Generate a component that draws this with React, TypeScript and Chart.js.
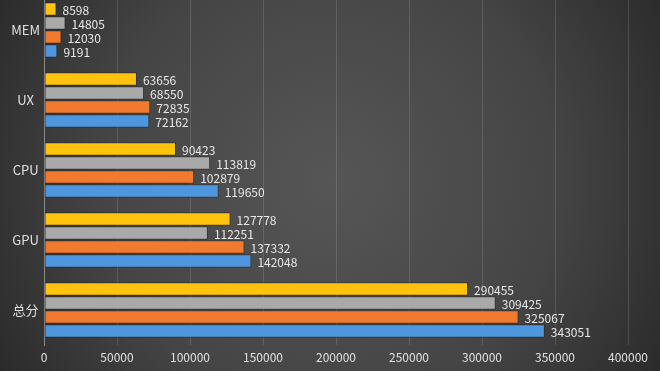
import React, { useEffect, useRef } from "react";
import { Chart, registerables } from "chart.js";

Chart.register(...registerables);

const categories = ["MEM", "UX", "CPU", "GPU", "总分"];
const seriesNames = ["设备D", "设备C", "设备B", "设备A"];
const yellowValues = [8598, 63656, 90423, 127778, 290455];
const grayValues = [14805, 68550, 113819, 112251, 309425];
const orangeValues = [12030, 72835, 102879, 137332, 325067];
const blueValues = [9191, 72162, 119650, 142048, 343051];
const xMax = 400000;
const xStep = 50000;

const FONT = '"Noto Sans CJK SC", "Noto Sans", sans-serif';

const bgPlugin = {
  id: "bg",
  beforeDraw(chart: any) {
    const { ctx, width, height } = chart;
    ctx.save();
    const g = ctx.createRadialGradient(width / 2, height / 2, 0, width / 2, height / 2, width * 0.62);
    g.addColorStop(0, "#565656");
    g.addColorStop(0.55, "#454545");
    g.addColorStop(1, "#262626");
    ctx.fillStyle = g;
    ctx.fillRect(0, 0, width, height);
    ctx.restore();
  },
};

const labelPlugin = {
  id: "valueLabels",
  afterDatasetsDraw(chart: any) {
    const { ctx } = chart;
    ctx.save();
    ctx.font = `12px ${FONT}`;
    ctx.fillStyle = "#e8e8e8";
    ctx.textAlign = "left";
    ctx.textBaseline = "middle";
    chart.data.datasets.forEach((ds: any, i: number) => {
      const meta = chart.getDatasetMeta(i);
      meta.data.forEach((el: any, j: number) => {
        ctx.fillText(String(ds.data[j]), el.x + 6, el.y + 1);
      });
    });
    ctx.restore();
  },
};

export default function App() {
  const ref = useRef<HTMLCanvasElement>(null);
  useEffect(() => {
    const mk = (label: string, data: number[], color: string) => ({
      label,
      data,
      backgroundColor: color,
      borderColor: "rgba(30,30,30,0.5)",
      borderWidth: 1,
      borderSkipped: false,
      categoryPercentage: 0.8,
      barPercentage: 0.95,
    });
    const chart = new Chart(ref.current!, {
      type: "bar",
      data: {
        labels: categories,
        datasets: [
          mk(seriesNames[0], yellowValues, "#FFC30F"),
          mk(seriesNames[1], grayValues, "#A9A9A9"),
          mk(seriesNames[2], orangeValues, "#F27A2E"),
          mk(seriesNames[3], blueValues, "#4E96DE"),
        ],
      },
      options: {
        indexAxis: "y",
        animation: false,
        responsive: false,
        maintainAspectRatio: false,
        layout: { padding: { top: 5, right: 32, left: 0, bottom: 0 } },
        plugins: { legend: { display: false }, tooltip: { enabled: false } },
        scales: {
          x: {
            min: 0,
            max: xMax,
            ticks: {
              stepSize: xStep,
              color: "#e0e0e0",
              font: { family: FONT, size: 12 },
              padding: 5,
              maxRotation: 0,
              callback: (v: any) => String(v),
            },
            grid: {
              color: (c: any) => (c.index === 0 ? "rgba(0,0,0,0)" : "rgba(255,255,255,0.13)"),
              drawTicks: false,
            },
            border: { display: false },
            afterFit(scale: any) {
              scale.height = 26;
            },
          },
          y: {
            ticks: {
              color: "#e0e0e0",
              font: { family: FONT, size: 13 },
              crossAlign: "center",
              padding: 4,
            },
            grid: { display: false, drawTicks: false },
            border: { display: true, color: "#8a8a8a", width: 1 },
            afterFit(scale: any) {
              scale.width = 44;
              scale.paddingTop = 0;
              scale.paddingBottom = 0;
            },
          },
        },
      },
      plugins: [bgPlugin, labelPlugin],
    } as any);
    return () => chart.destroy();
  }, []);
  return (
    <div style={{ position: "absolute", left: 0, top: -10, width: 660, height: 381 }}>
      <canvas ref={ref} width={660} height={381} style={{ display: "block" }} />
    </div>
  );
}
